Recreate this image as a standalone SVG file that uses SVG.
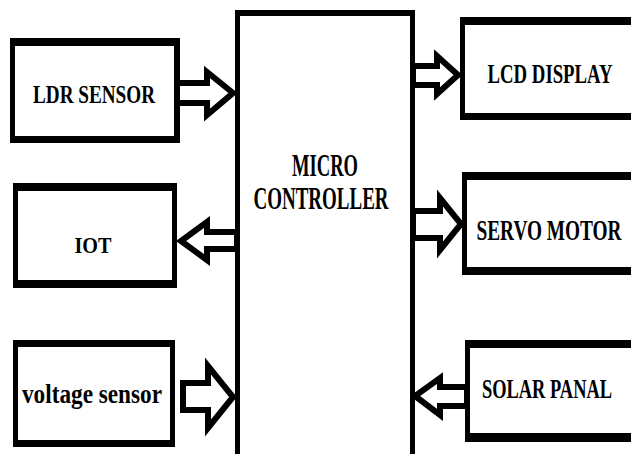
<svg xmlns="http://www.w3.org/2000/svg" width="631" height="454" viewBox="0 0 631 454">
  <style>
    .outer { fill: #000; }
    .inner { fill: #fff; }
    .lbl { font-family: "Liberation Serif", "Times New Roman", serif; font-weight: bold; fill: #000; text-anchor: middle; }
    .arrow { fill: #fff; stroke: #000; stroke-width: 6; stroke-linejoin: miter; }
  </style>
  <rect width="631" height="454" fill="#fff"/>
  <g id="mc">
    <rect class="outer" x="235" y="10" width="180" height="444"/>
    <rect class="inner" x="240" y="16" width="170" height="438"/>
    <text class="lbl" x="325" y="176" font-size="31" textLength="66" lengthAdjust="spacingAndGlyphs">MICRO</text>
    <text class="lbl" x="321" y="209" font-size="31" textLength="135" lengthAdjust="spacingAndGlyphs">CONTROLLER</text>
  </g>
  <g id="ldr">
    <rect class="outer" x="10" y="38" width="170" height="105"/>
    <rect class="inner" x="15" y="46" width="159" height="90"/>
    <text class="lbl" x="94" y="103" font-size="26" textLength="122" lengthAdjust="spacingAndGlyphs">LDR SENSOR</text>
  </g>
  <g id="iot">
    <rect class="outer" x="13" y="183" width="164" height="105"/>
    <rect class="inner" x="18" y="191" width="154" height="89"/>
    <text class="lbl" x="93" y="253" font-size="24" textLength="37" lengthAdjust="spacingAndGlyphs">IOT</text>
  </g>
  <g id="voltage">
    <rect class="outer" x="13" y="340" width="162" height="107"/>
    <rect class="inner" x="18" y="347" width="152" height="93"/>
    <text class="lbl" x="92" y="403" font-size="28" textLength="140" lengthAdjust="spacingAndGlyphs">voltage sensor</text>
  </g>
  <g id="lcd">
    <rect class="outer" x="460" y="17" width="171" height="103"/>
    <rect class="inner" x="465" y="25" width="166" height="88"/>
    <text class="lbl" x="550" y="83" font-size="28" textLength="125" lengthAdjust="spacingAndGlyphs">LCD DISPLAY</text>
  </g>
  <g id="servo">
    <rect class="outer" x="462" y="172" width="169" height="103"/>
    <rect class="inner" x="467" y="180" width="164" height="87"/>
    <text class="lbl" x="549" y="240" font-size="30" textLength="145" lengthAdjust="spacingAndGlyphs">SERVO MOTOR</text>
  </g>
  <g id="solar">
    <rect class="outer" x="465" y="340" width="166" height="102"/>
    <rect class="inner" x="470" y="348" width="161" height="85"/>
    <text class="lbl" x="547" y="398" font-size="28" textLength="130" lengthAdjust="spacingAndGlyphs">SOLAR PANAL</text>
  </g>
  <g id="connectors">
    <polygon class="arrow" points="177,83 207,83 207,72 233,93 207,115 207,103 177,103"/>
    <polygon class="arrow" points="237,232 207,232 207,222 181,241 207,260 207,249 237,249"/>
    <polygon class="arrow" points="183,383 208,383 208,366 233,397 208,428 208,410 183,410"/>
    <polygon class="arrow" points="413,66 437,66 437,56 458,75 437,94 437,85 413,85"/>
    <polygon class="arrow" points="413,211 440,211 440,198 461,224 440,250 440,238 413,238"/>
    <polygon class="arrow" points="467,387 440,387 440,378 415,396 440,415 440,406 467,406"/>
  </g>
</svg>
